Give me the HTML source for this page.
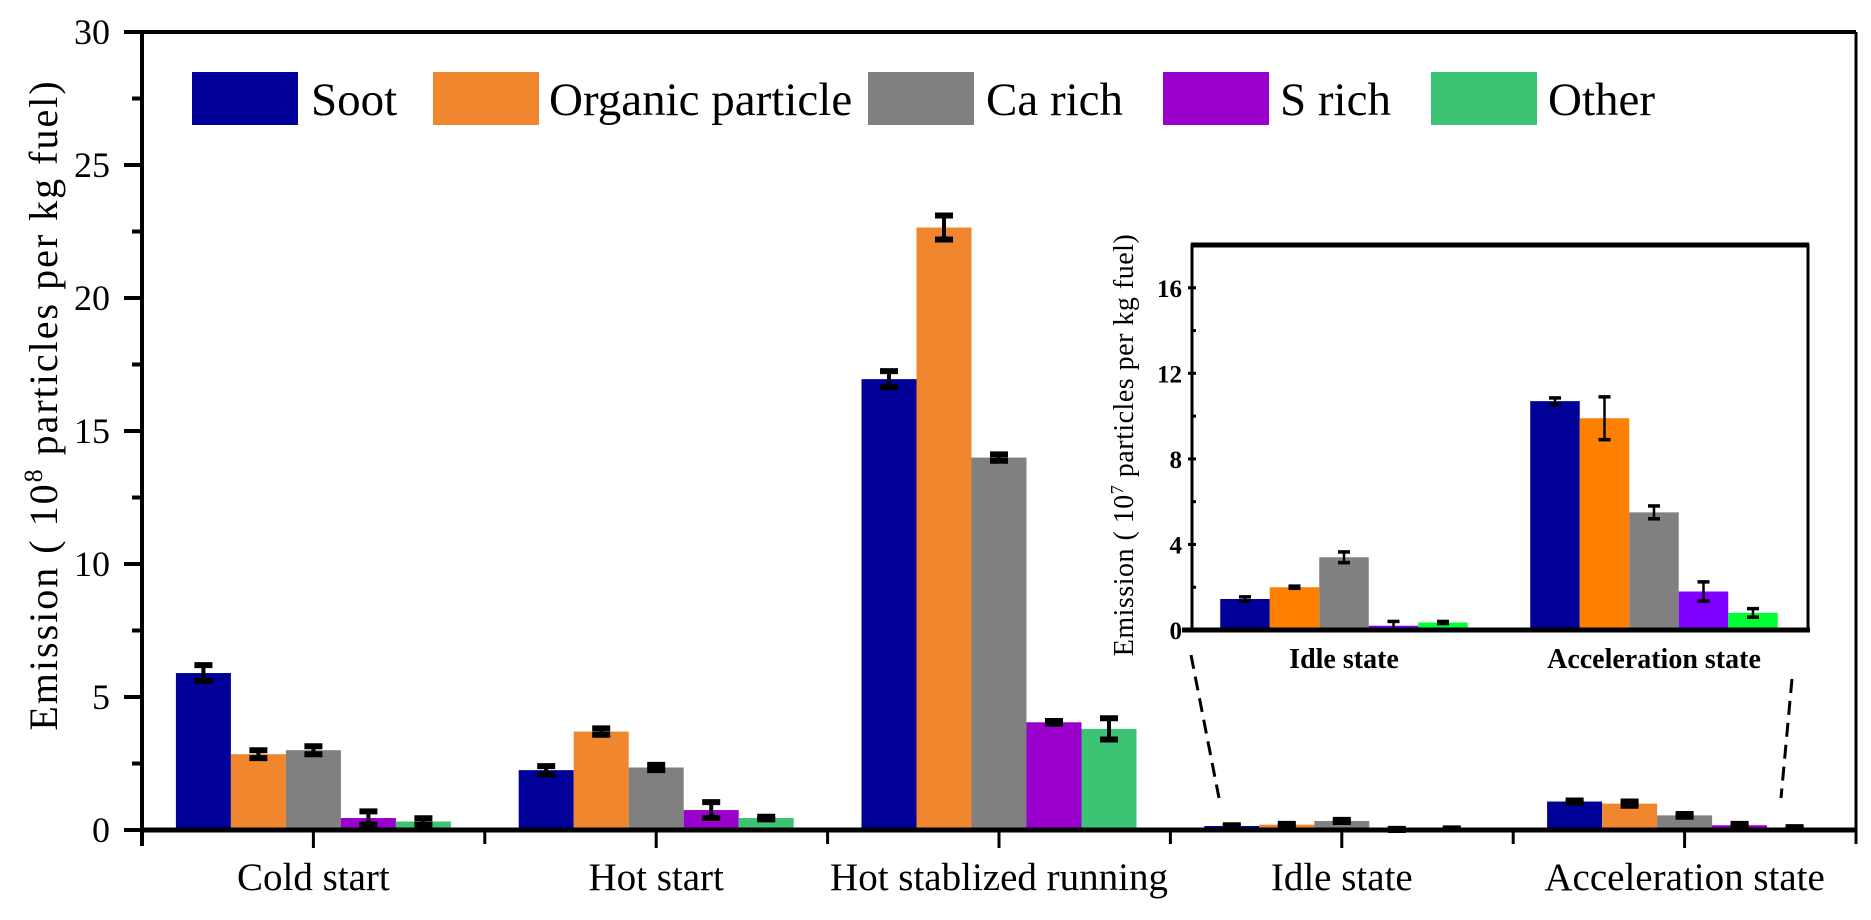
<!DOCTYPE html>
<html><head><meta charset="utf-8"><style>
html,body{margin:0;padding:0;background:#fff}
svg{display:block;font-family:"Liberation Serif",serif}
</style></head><body>
<svg id="chart" width="1871" height="920" viewBox="0 0 1871 920" xmlns="http://www.w3.org/2000/svg"></svg>
<script>
const categories=["Cold start","Hot start","Hot stablized running","Idle state","Acceleration state"];
const seriesNames=["Soot","Organic particle","Ca rich","S rich","Other"];
const soot=[5.9,2.25,16.95,0.15,1.07];
const organic=[2.85,3.7,22.65,0.2,0.99];
const carich=[3.0,2.35,14.0,0.34,0.55];
const srich=[0.45,0.75,4.05,0.02,0.18];
const other=[0.32,0.45,3.8,0.04,0.08];
const sootErr=[0.3,0.15,0.3,0.03,0.04];
const organicErr=[0.15,0.12,0.45,0.03,0.08];
const carichErr=[0.15,0.1,0.12,0.04,0.05];
const srichErr=[0.25,0.3,0.05,0.02,0.05];
const otherErr=[0.12,0.05,0.4,0.02,0.03];
const yTicks=[0,5,10,15,20,25,30];
const insetCategories=["Idle state","Acceleration state"];
const insetSoot=[1.45,10.7];
const insetOrganic=[2.0,9.9];
const insetCarich=[3.4,5.5];
const insetSrich=[0.2,1.8];
const insetOther=[0.35,0.8];
const insetSootErr=[0.1,0.15];
const insetOrganicErr=[0.05,1.0];
const insetCarichErr=[0.25,0.3];
const insetSrichErr=[0.2,0.45];
const insetOtherErr=[0.05,0.2];
const insetTicks=[0,4,8,12,16];

const NS="http://www.w3.org/2000/svg";
const svg=document.getElementById("chart");
function mk(tag,attrs,parent){const e=document.createElementNS(NS,tag);for(const k in attrs)e.setAttribute(k,attrs[k]);(parent||svg).appendChild(e);return e;}

const X0=142,X1=1856,Y0=830,YT=32,YMAX=30;
const y=v=>Y0-(v/YMAX)*(Y0-YT);
const gw=(X1-X0)/categories.length;
const xc=i=>X0+gw*(i+0.5);
const colors=["#000099","#F0862E","#808080","#9900CC","#3CC373"];
const mainVals=[soot,organic,carich,srich,other];
const mainErrs=[sootErr,organicErr,carichErr,srichErr,otherErr];
const bw=55;

let l=mk("line",{x1:X0,y1:YT,x2:X1,y2:YT,stroke:"#000","stroke-width":4});


l=mk("line",{x1:X1,y1:YT,x2:X1,y2:Y0+14,stroke:"#000","stroke-width":3});



for(let s=0;s<5;s++){
  for(let i=0;i<categories.length;i++){
    const v=mainVals[s][i],e=mainErrs[s][i];
    const x=xc(i)-2.5*bw+s*bw;
    const r=mk("rect",{x:x,y:y(v),width:bw,height:Y0-y(v),fill:colors[s]});
    
    
    const cx=x+bw/2;
    const g=mk("g",{stroke:"#000","stroke-width":4});
    
    
    mk("line",{x1:cx,y1:y(v+e),x2:cx,y2:Math.min(Y0,y(v-e))},g);
    mk("line",{x1:cx-9,y1:y(v+e),x2:cx+9,y2:y(v+e),"stroke-width":6},g);
    mk("line",{x1:cx-9,y1:Math.min(Y0,y(v-e)),x2:cx+9,y2:Math.min(Y0,y(v-e)),"stroke-width":6},g);
  }
}

l=mk("line",{x1:X0,y1:YT-2,x2:X0,y2:Y0+16,stroke:"#000","stroke-width":4});


yTicks.forEach(t=>{
  mk("line",{x1:X0-18,y1:y(t),x2:X0,y2:y(t),stroke:"#000","stroke-width":4});
  if(t<YMAX) mk("line",{x1:X0-10,y1:y(t+2.5),x2:X0,y2:y(t+2.5),stroke:"#000","stroke-width":4});
  const tx=mk("text",{x:110,y:y(t)+12,"text-anchor":"end","font-size":36});
  tx.textContent=t;
  
  
});
l=mk("line",{x1:X0,y1:Y0,x2:X1,y2:Y0,stroke:"#000","stroke-width":5});


for(let k=0;k<=categories.length;k++) mk("line",{x1:X0+gw*k,y1:Y0,x2:X0+gw*k,y2:Y0+14,stroke:"#000","stroke-width":3});
categories.forEach((c,i)=>{
  mk("line",{x1:xc(i),y1:Y0,x2:xc(i),y2:Y0+18,stroke:"#000","stroke-width":3});
  const tx=mk("text",{x:xc(i),y:890,"text-anchor":"middle","font-size":39});
  tx.textContent=c;
  
  
});
let tt=mk("text",{transform:"translate(57,405) rotate(-90)","text-anchor":"middle","font-size":40,"letter-spacing":2});
tt.innerHTML='Emission ( 10<tspan font-size="26" dy="-15">8</tspan><tspan dy="15"> particles per kg fuel)</tspan>';



const legX=[192,433,868,1163,1431],legT=[311,549,986,1280,1548];
seriesNames.forEach((n,s)=>{
  const g=mk("g",{});
  
  
  mk("rect",{x:legX[s],y:72,width:106,height:53,fill:colors[s]},g);
  const t=mk("text",{x:legT[s],y:115,"font-size":47},g);
  t.textContent=n;
});

const d=mk("g",{stroke:"#000","stroke-width":3,"stroke-dasharray":"14,8"});


mk("line",{x1:1191,y1:655,x2:1219,y2:798},d);
mk("line",{x1:1792,y1:679,x2:1781,y2:798},d);

const IX0=1192,IX1=1808,IY0=630,IYT=245,IMAX=18;
const iy=v=>IY0-(v/IMAX)*(IY0-IYT);
const icx=[1344,1654];
const icolors=["#000099","#FF8000","#808080","#8000FF","#00FF33"];
const iVals=[insetSoot,insetOrganic,insetCarich,insetSrich,insetOther];
const iErrs=[insetSootErr,insetOrganicErr,insetCarichErr,insetSrichErr,insetOtherErr];
const ibw=49.5;
const ig=mk("g",{});


mk("rect",{x:IX0,y:IYT,width:IX1-IX0,height:IY0-IYT,fill:"#fff",stroke:"#000","stroke-width":3},ig);
mk("line",{x1:IX0-1,y1:IYT,x2:IX1+1,y2:IYT,stroke:"#000","stroke-width":5},ig);
for(let s=0;s<5;s++){
  for(let i=0;i<insetCategories.length;i++){
    const v=iVals[s][i],e=iErrs[s][i];
    const x=icx[i]-2.5*ibw+s*ibw;
    const r=mk("rect",{x:x,y:iy(v),width:ibw,height:IY0-iy(v),fill:icolors[s]},ig);
    
    
    const cx=x+ibw/2;
    const g=mk("g",{stroke:"#000","stroke-width":2.5},ig);
    mk("line",{x1:cx,y1:iy(v+e),x2:cx,y2:Math.min(IY0,iy(v-e))},g);
    mk("line",{x1:cx-6,y1:iy(v+e),x2:cx+6,y2:iy(v+e),"stroke-width":3.5},g);
    mk("line",{x1:cx-6,y1:Math.min(IY0,iy(v-e)),x2:cx+6,y2:Math.min(IY0,iy(v-e)),"stroke-width":3.5},g);
  }
}
mk("line",{x1:IX0-10,y1:IY0,x2:IX1+2,y2:IY0,stroke:"#000","stroke-width":5},ig);
insetTicks.forEach(t=>{
  mk("line",{x1:IX0-4,y1:iy(t),x2:IX0+4,y2:iy(t),stroke:"#000","stroke-width":3},ig);
  mk("line",{x1:IX0,y1:iy(t+2),x2:IX0+4,y2:iy(t+2),stroke:"#000","stroke-width":3},ig);
  const tx=mk("text",{x:1182,y:iy(t)+9,"text-anchor":"end","font-size":25,"font-weight":"bold"},ig);
  tx.textContent=t;
  
  
});
insetCategories.forEach((c,i)=>{
  const tx=mk("text",{x:icx[i],y:668,"text-anchor":"middle","font-size":28,"font-weight":"bold"},ig);
  tx.textContent=c;
  
  
});
tt=mk("text",{transform:"translate(1133,445) rotate(-90)","text-anchor":"middle","font-size":28,"letter-spacing":0.5},ig);
tt.innerHTML='Emission ( 10<tspan font-size="18" dy="-10">7</tspan><tspan dy="10"> particles per kg fuel)</tspan>';


</script>
</body></html>
